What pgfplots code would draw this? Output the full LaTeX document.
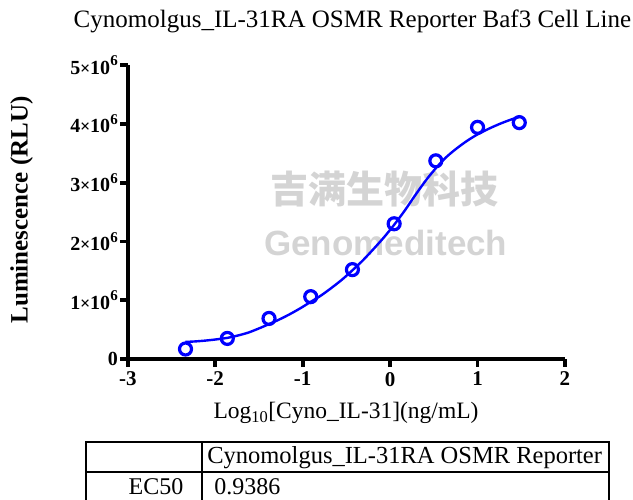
\documentclass[border=0pt]{standalone}
\usepackage{fontspec}
\setmainfont{Liberation Serif}
\newfontfamily\cjk{Noto Sans CJK SC}
\newfontfamily\wmsans{Liberation Sans}
\usepackage{pgfplots}
\pgfplotsset{compat=1.18}
\definecolor{gpblue}{RGB}{0,0,255}
\definecolor{wm}{RGB}{212,212,212}
\newcommand{\sci}[1]{#1\kern-0.3pt{\fontsize{18}{18}\selectfont×}\kern-0.3pt10\kern0.2pt\raisebox{0.42em}{\fontsize{15}{15}\selectfont 6}}
\begin{document}
\begin{tikzpicture}[x=1pt,y=1pt]
% watermark
\node[text=wm, font=\cjk\bfseries\fontsize{38}{40}\selectfont] at (257,170) {吉满生物科技};
\node[text=wm, font=\wmsans\bfseries\fontsize{35}{38}\selectfont] at (258,116) {Genomeditech};
\begin{axis}[
  at={(0,0)}, anchor=south west, scale only axis,
  width=437.2pt, height=294pt,
  xmin=-3, xmax=2, ymin=0, ymax=5e6,
  axis lines=left,
  axis line style={-, line width=3.8pt},
  xtick={-3,-2,-1,0,1,2},
  xticklabels={-3,-2,-1,0,1,2},
  ytick={0,1e6,2e6,3e6,4e6,5e6},
  yticklabels={0,\sci{1},\sci{2},\sci{3},\sci{4},\sci{5}},
  scaled y ticks=false,
  tick align=outside,
  major tick length=7.5pt,
  tick style={line width=3.8pt, black},
  xticklabel style={font=\bfseries\fontsize{21}{21}\selectfont, yshift=-2pt},
  yticklabel style={font=\bfseries\fontsize{20}{20}\selectfont, xshift=1pt},
  clip=false,
]
\addplot[gpblue, line width=2.4pt, smooth, no markers] coordinates {
(-2.34,0.290e6) (-2.22,0.300e6) (-2.10,0.315e6) (-1.98,0.335e6) (-1.86,0.360e6)
(-1.74,0.400e6) (-1.62,0.450e6) (-1.50,0.520e6) (-1.39,0.590e6) (-1.27,0.670e6)
(-1.15,0.760e6) (-1.03,0.860e6) (-0.91,0.970e6) (-0.79,1.080e6) (-0.67,1.210e6)
(-0.55,1.350e6) (-0.43,1.510e6) (-0.31,1.680e6) (-0.19,1.870e6) (-0.07,2.070e6)
(0.05,2.290e6) (0.17,2.530e6) (0.28,2.770e6) (0.40,3.020e6) (0.52,3.240e6)
(0.64,3.430e6) (0.76,3.580e6) (0.88,3.710e6) (1.00,3.820e6) (1.12,3.910e6)
(1.24,3.990e6) (1.36,4.060e6) (1.48,4.120e6)
};
\addplot[gpblue, only marks, mark=o, mark size=6pt, mark options={line width=3.2pt}] coordinates {
(-2.340,0.17e6) (-1.862,0.35e6) (-1.385,0.69e6) (-0.908,1.06e6) (-0.431,1.52e6)
(0.046,2.30e6) (0.523,3.37e6) (1.000,3.94e6) (1.477,4.02e6)
};
\end{axis}
% titles and labels
\node[font=\fontsize{25}{27}\selectfont] at (224.7,338) {Cynomolgus\_IL-31RA OSMR Reporter Baf3 Cell Line};
\node[font=\fontsize{23.5}{25}\selectfont] at (218.2,-54) {Log\textsubscript{10}[Cyno\_IL-31](ng/mL)};
\node[rotate=90, font=\bfseries\fontsize{25}{27}\selectfont] at (-106.3,149) {Luminescence (RLU)};
% table
\draw[line width=2pt] (-41.7,-170) -- (-41.7,-83) -- (480.7,-83) -- (480.7,-170);
\draw[line width=1.6pt] (-41.7,-113) -- (480.7,-113);
\draw[line width=1.6pt] (74.5,-83) -- (74.5,-170);
\node[anchor=west, font=\fontsize{24.5}{26}\selectfont] at (76,-98.5) {Cynomolgus\_IL-31RA OSMR Reporter};
\node[anchor=east, font=\fontsize{24}{26}\selectfont] at (59,-128) {EC50};
\node[anchor=west, font=\fontsize{24}{26}\selectfont] at (83,-128) {0.9386};
\pgfresetboundingbox
\path[use as bounding box] (-127.8,-140) rectangle (505.2,359);
\end{tikzpicture}
\end{document}
